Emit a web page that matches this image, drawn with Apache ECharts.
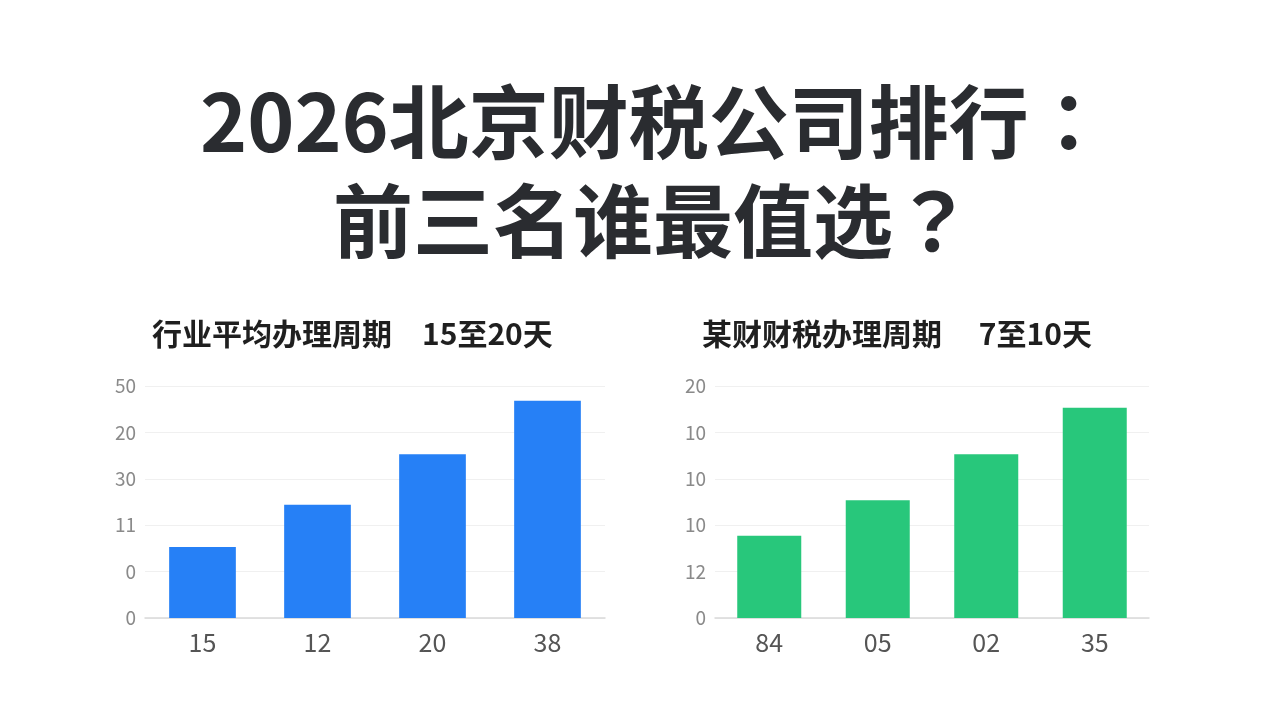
<!DOCTYPE html>
<html>
<head>
<meta charset="utf-8">
<script src="https://cdn.jsdelivr.net/npm/echarts@6/dist/echarts.min.js"></script>
<style>
html,body{margin:0;padding:0;background:#fff;}
#c{width:1280px;height:720px;}
</style>
</head>
<body>
<div id="c"></div>
<script>
// ---- data ----
const titleLine1 = '2026北京财税公司排行';
const titleLine1End = '：';
const titleLine2 = '前三名谁最值选';
const titleLine2End = '？';
const leftSubtitle = '行业平均办理周期\u300015至20天';
const rightSubtitle = '某财财税办理周期\u3000 7至10天';

const leftCategories = ['15', '12', '20', '38'];
const leftValues = [1.53, 2.44, 3.53, 4.68];
const leftTickLabels = ['0', '0', '11', '30', '20', '50'];

const rightCategories = ['84', '05', '02', '35'];
const rightValues = [1.77, 2.54, 3.53, 4.53];
const rightTickLabels = ['0', '12', '10', '10', '10', '20'];

// ---- chart ----
const FONT = '"Noto Sans CJK SC", "Noto Sans", sans-serif';
const PFONT = '"Noto Sans CJK JP", "Noto Sans CJK SC", sans-serif';
const chart = echarts.init(document.getElementById('c'));

function xAxis(idx, cats) {
  return {
    type: 'category', gridIndex: idx, data: cats,
    axisTick: {show: false},
    axisLine: {lineStyle: {color: '#d9d9d9', width: 1.5}},
    axisLabel: {color: '#555', fontSize: 25, fontFamily: FONT, margin: 12}
  };
}
function yAxis(idx, labels) {
  return {
    type: 'value', gridIndex: idx, min: 0, max: 5, interval: 1,
    axisLine: {show: false}, axisTick: {show: false},
    splitLine: {lineStyle: {color: '#f0f0f0', width: 1}},
    axisLabel: {
      color: '#8a8a8a', fontSize: 19, fontFamily: FONT, margin: 9,
      formatter: function (v) { return labels[Math.round(v)]; }
    }
  };
}
const bigStyle = {
  fontSize: 80, fontWeight: 'bold', color: '#2a2c30', fontFamily: FONT, lineHeight: 100,
  rich: {
    p: {fontSize: 80, fontWeight: 'bold', color: '#2a2c30', fontFamily: PFONT, lineHeight: 100}
  }
};

chart.setOption({
  backgroundColor: '#ffffff',
  animation: false,
  title: [
    {text: titleLine1 + '{p|' + titleLine1End + '}', left: 200, top: 72, padding: 0, textStyle: bigStyle},
    {text: titleLine2 + '{p|' + titleLine2End + '}', left: 333, top: 171, padding: 0, textStyle: bigStyle},
    {
      text: leftSubtitle, left: 152, top: 319, padding: 0,
      textStyle: {fontSize: 30, fontWeight: 'bold', color: '#1f1f1f', fontFamily: FONT}
    },
    {
      text: rightSubtitle, left: 702, top: 319, padding: 0,
      textStyle: {fontSize: 30, fontWeight: 'bold', color: '#1f1f1f', fontFamily: FONT}
    }
  ],
  grid: [
    {left: 145, top: 386, width: 460, height: 232},
    {left: 715, top: 386, width: 434, height: 232}
  ],
  xAxis: [xAxis(0, leftCategories), xAxis(1, rightCategories)],
  yAxis: [yAxis(0, leftTickLabels), yAxis(1, rightTickLabels)],
  series: [
    {
      type: 'bar', xAxisIndex: 0, yAxisIndex: 0, data: leftValues,
      barWidth: '58%', itemStyle: {color: '#2680f6'}
    },
    {
      type: 'bar', xAxisIndex: 1, yAxisIndex: 1, data: rightValues,
      barWidth: '59%', itemStyle: {color: '#28c77b'}
    }
  ]
});
</script>
</body>
</html>
